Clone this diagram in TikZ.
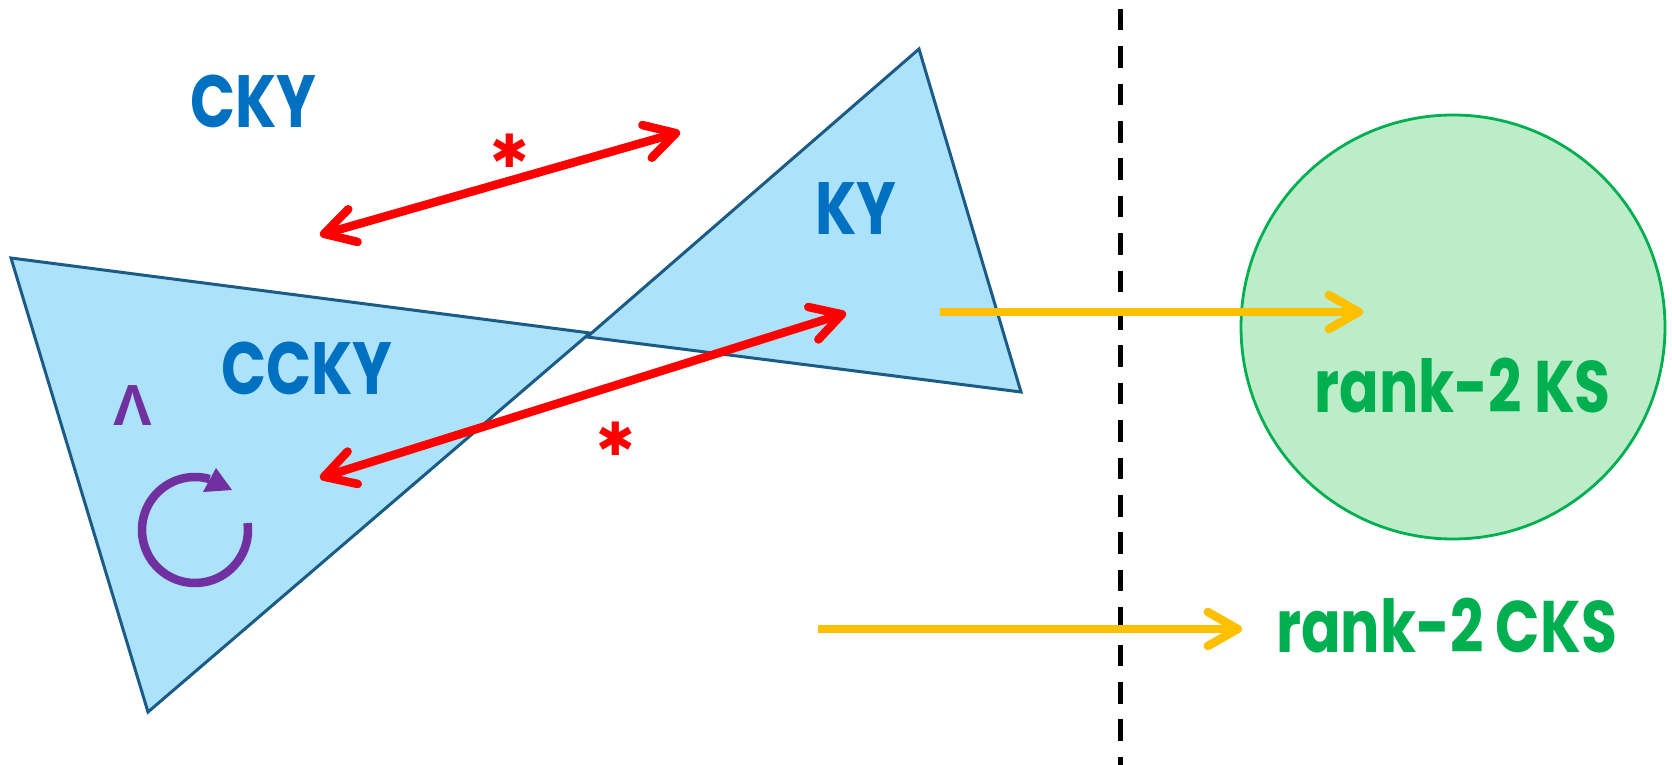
\documentclass[tikz,border=0pt]{standalone}
\usepackage{fontspec}
\usetikzlibrary{arrows.meta}
\newfontfamily\pop{Poppins}
\newfontfamily\libsans{Liberation Sans}
\newfontfamily\dvs{DejaVu Sans}
\definecolor{tribg}{HTML}{ADE2FB}
\definecolor{triline}{HTML}{1B5C86}
\definecolor{ckyblue}{HTML}{0070C0}
\definecolor{ksgreen}{HTML}{00B050}
\definecolor{ksfill}{HTML}{BCECC8}
\definecolor{mapyellow}{HTML}{FFC000}
\definecolor{lampurple}{HTML}{7030A0}
\newcommand{\narrow}[1]{\scalebox{0.8}[1]{#1}}
\begin{document}
\begin{tikzpicture}[x=1pt,y=-1pt,
  region/.style={fill=tribg, draw=triline, line width=3pt, line join=miter},
  bluelabel/.style={text=ckyblue, font=\pop\bfseries\fontsize{74}{74}\selectfont, anchor=base, inner sep=0pt},
  greenlabel/.style={text=ksgreen, font=\pop\bfseries\fontsize{73}{73}\selectfont, anchor=base, inner sep=0pt},
  dual/.style={red, line width=8.5pt, line cap=round, {Straight Barb[length=30pt,width=34pt,round]}-{Straight Barb[length=30pt,width=34pt,round]}},
  mapsto/.style={mapyellow, line width=8.5pt, -{Straight Barb[length=30pt,width=34pt,round]}},
  starlabel/.style={text=red, anchor=center, inner sep=0pt, font=\dvs\fontsize{46}{46}\selectfont},
  divider/.style={black, line width=4.5pt, dash pattern=on 21.5pt off 15.9pt},
]
\useasboundingbox (0,0) rectangle (1672,765);
% regions
\draw[region] (11,258) -- (590,333) -- (148,712) -- cycle;
\draw[region] (587,337) -- (919,49) -- (1021,392) -- cycle;
% circle
\node[circle, minimum size=424pt, inner sep=0pt, fill=ksfill, draw=ksgreen, line width=2.8pt] (ks) at (1453,327) {};
% divider
\coordinate (dtop) at (1120.5,8.8);
\coordinate (dbot) at (1120.5,765);
\draw[divider] (dtop) -- (dbot);
% labels
\node[bluelabel] (cky) at (253.5,128) {\narrow{CKY}};
\node[bluelabel] (ky) at (856,234) {\narrow{KY}};
\node[bluelabel] (ccky) at (307,394) {\narrow{CCKY}};
\node[greenlabel] (rks) at (1462.5,412) {\narrow{rank-2 KS}};
\node[greenlabel] (rcks) at (1446.5,652) {\narrow{rank-2 CKS}};
\node[starlabel] (star1) at (510,151) {✱};
\node[starlabel] (star2) at (616,439) {✱};
\node[text=lampurple, font=\libsans\bfseries\fontsize{58}{58}\selectfont, anchor=base, inner sep=0pt] (lam) at (133,425) {Λ};
% red arrows
\coordinate (r1a) at (320,235);
\coordinate (r1b) at (680,132);
\coordinate (r2a) at (320,478);
\coordinate (r2b) at (846,313);
\draw[dual] (r1a) -- (r1b);
\draw[dual] (r2a) -- (r2b);
% yellow arrows
\coordinate (y1a) at (940,312);
\coordinate (y1b) at (1363,312);
\coordinate (y2a) at (818,629);
\coordinate (y2b) at (1242,629);
\draw[mapsto] (y1a) -- (y1b);
\draw[mapsto] (y2a) -- (y2b);
% rotation
\coordinate (rot) at (195,530);
\draw[lampurple, line width=8.5pt] (rot) ++(-7.5:53) arc[start angle=-7.5, end angle=286, radius=53];
\fill[lampurple] (216,468) -- (232,490) -- (203,492) -- cycle;
\end{tikzpicture}
\end{document}
